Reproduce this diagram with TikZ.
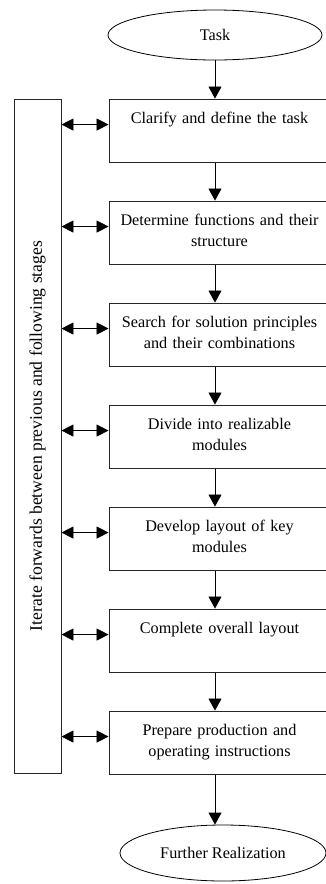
\documentclass[tikz,border=0pt]{standalone}
\usepackage{fontspec}
\setmainfont{Liberation Serif}
\usetikzlibrary{shapes.geometric,arrows.meta,calc}

\tikzset{
  stage/.style={draw=black!85, line width=0.9pt, rectangle, minimum width=221pt,
    minimum height=63.5pt, inner sep=0pt},
  stagetext/.style={anchor=north, inner sep=0pt, text width=210pt, align=center,
    font=\fontsize{16.2}{21}\selectfont, yshift=-13.5pt},
  terminal/.style={draw=black, line width=0.8pt, ellipse, inner sep=0pt,
    font=\fontsize{16.2}{21}\selectfont},
  flow/.style={draw=black, line width=0.8pt, -{Triangle[length=12pt,width=13pt]}},
  loop/.style={draw=black, line width=0.8pt,
    {Triangle[length=12pt,width=12pt]}-{Triangle[length=12pt,width=12pt]}},
}

\begin{document}
\begin{tikzpicture}[x=1pt,y=-1pt]
\useasboundingbox (0,0) rectangle (326,884);

% start and end terminals
\node[terminal, minimum width=214pt, minimum height=50pt] (task) at (215,35) {Task};
\node[terminal, minimum width=206pt, minimum height=56pt] (real) at (223,853) {Further Realization};

% process stages
\node[stage] (b1) at (219.5,130.75) {};
\node[stage] (b2) at (219.5,232.75) {};
\node[stage] (b3) at (219.5,334.75) {};
\node[stage] (b4) at (219.5,436.75) {};
\node[stage] (b5) at (219.5,538.75) {};
\node[stage] (b6) at (219.5,640.75) {};
\node[stage] (b7) at (219.5,742.75) {};

\node[stagetext] (t1) at (b1.north) {Clarify and define the task};
\node[stagetext] (t2) at (b2.north) {Determine functions and their\\structure};
\node[stagetext] (t3) at (b3.north) {Search for solution principles\\and their combinations};
\node[stagetext] (t4) at (b4.north) {Divide into realizable\\modules};
\node[stagetext] (t5) at (b5.north) {Develop layout of key\\modules};
\node[stagetext] (t6) at (b6.north) {Complete overall layout};
\node[stagetext] (t7) at (b7.north) {Prepare production and\\operating instructions};

% iteration panel on the left
\node[draw=black!85, line width=0.9pt, rectangle, minimum width=47pt, minimum height=674pt,
  inner sep=0pt] (iter) at (37.5,436) {};
\node[rotate=90, font=\fontsize{17.6}{21}\selectfont, inner sep=0pt] (itext) at (37.5,436)
  {Iterate forwards between previous and following stages};

% main flow
\draw[flow] (task.south) -- (b1.north -| task.south);
\foreach \a/\b in {b1/b2,b2/b3,b3/b4,b4/b5,b5/b6,b6/b7}
  \draw[flow] (\a.south -| task.south) -- (\b.north -| task.south);
\draw[flow] (b7.south -| task.south) -- (real.north -| task.south);

% links between the panel and each stage
\foreach \b in {b1,b2,b3,b4,b5,b6,b7}
  \draw[loop] (iter.east |- {$(\b.north west)+(0,26)$}) -- ($(\b.north west)+(0,26)$);
\end{tikzpicture}
\end{document}
